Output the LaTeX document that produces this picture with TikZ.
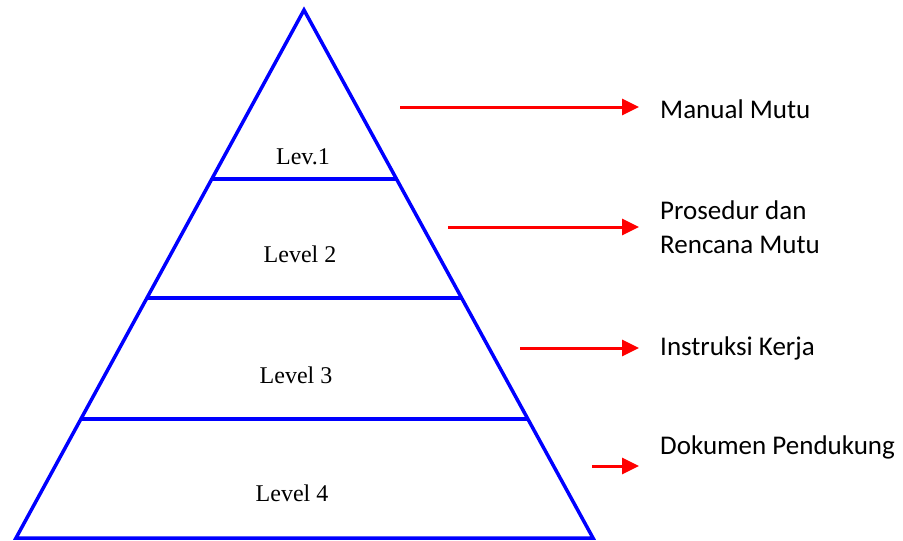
\documentclass[tikz,border=0pt]{standalone}
\usepackage{fontspec}
\setmainfont{Liberation Serif}
\newfontfamily\calfont{Carlito}
\usetikzlibrary{arrows.meta}
\begin{document}
\begin{tikzpicture}[x=1pt,y=-1pt,
  pyr/.style={draw=blue,line width=3.5pt,line join=miter},
  tier/.style={draw=blue,line width=3.5pt},
  redarrow/.style={draw=red,line width=3pt,-{Triangle[length=17pt,width=16pt]}},
  lvl/.style={anchor=base,font=\fontsize{24}{28}\selectfont,inner sep=0pt},
  desc/.style={anchor=base west,font=\calfont\fontsize{27}{34}\selectfont,inner sep=0pt,align=left}]
\useasboundingbox (0,0) rectangle (903,541);
\coordinate (apex) at (304,10);
\coordinate (bl) at (16,538);
\coordinate (br) at (593,538);
\draw[pyr] (apex) -- (bl) -- (br) -- cycle;
\coordinate (l1a) at (212,179); \coordinate (l1b) at (397,179);
\coordinate (l2a) at (147,298); \coordinate (l2b) at (462,298);
\coordinate (l3a) at (81,419);  \coordinate (l3b) at (527,419);
\draw[tier] (l1a) -- (l1b);
\draw[tier] (l2a) -- (l2b);
\draw[tier] (l3a) -- (l3b);
\node[lvl] (lev1) at (303,164) {Lev.1};
\node[lvl] (lev2) at (300,262) {Level 2};
\node[lvl] (lev3) at (296,383) {Level 3};
\node[lvl] (lev4) at (292,501) {Level 4};
\coordinate (a1s) at (400,107); \coordinate (a1e) at (639,107);
\coordinate (a2s) at (448,227); \coordinate (a2e) at (639,227);
\coordinate (a3s) at (520,348); \coordinate (a3e) at (639,348);
\coordinate (a4s) at (592,466); \coordinate (a4e) at (639,466);
\draw[redarrow] (a1s) -- (a1e);
\draw[redarrow] (a2s) -- (a2e);
\draw[redarrow] (a3s) -- (a3e);
\draw[redarrow] (a4s) -- (a4e);
\node[desc] (d1) at (660,118) {Manual Mutu};
\node[desc] (d2) at (660,253) {Prosedur dan\\Rencana Mutu};
\node[desc] (d3) at (660,355) {Instruksi Kerja};
\node[desc] (d4) at (660,454) {Dokumen Pendukung};
\end{tikzpicture}
\end{document}
